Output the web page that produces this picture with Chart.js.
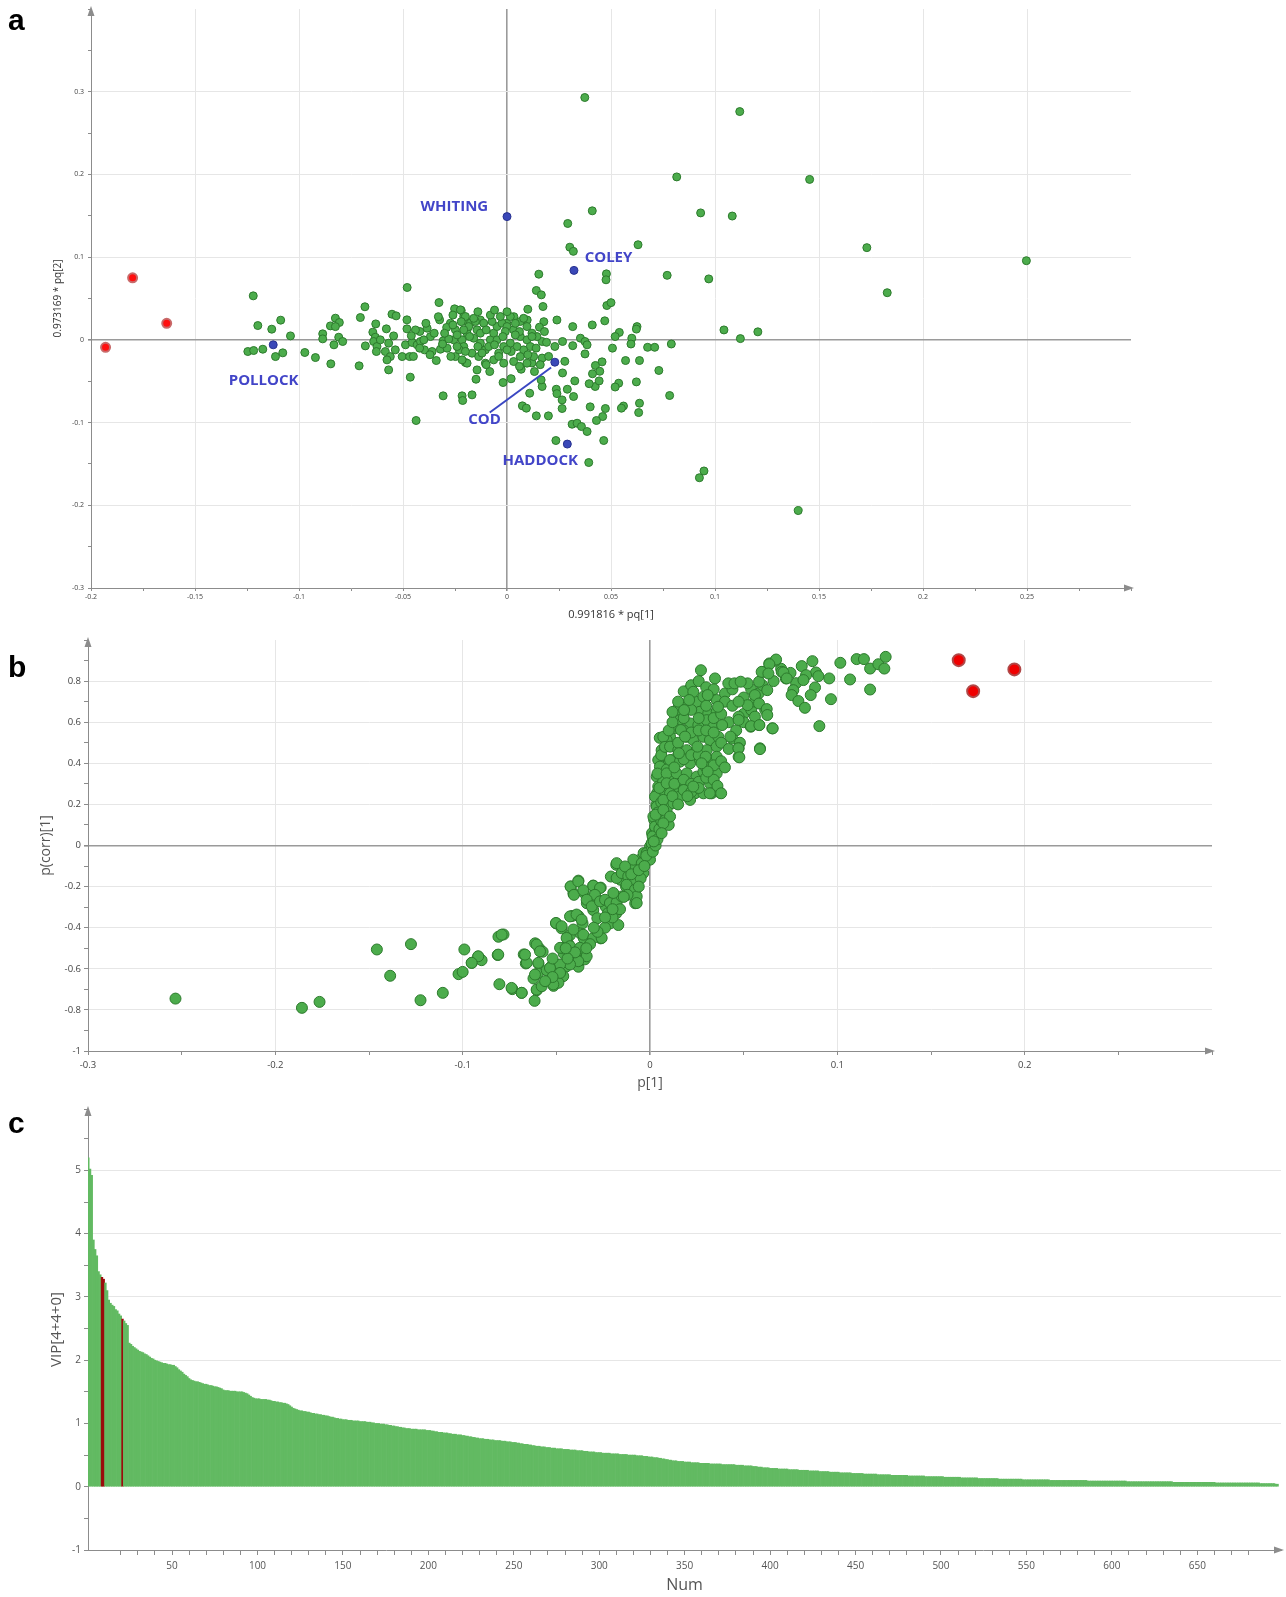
<!DOCTYPE html>
<html>
<head>
<meta charset="utf-8">
<script src="https://cdn.jsdelivr.net/npm/chart.js@4.4.1/dist/chart.umd.min.js"></script>
<style>
  body { margin: 0; background: #fff; width: 1286px; height: 1597px; position: relative; overflow: hidden; }
  .panel { position: absolute; left: 0; width: 1286px; }
  .letter { position: absolute; left: 8px; font: bold 30px "Liberation Sans", Arial, sans-serif; line-height: 30px; color: #000; }
</style>
</head>
<body>
<div class="panel" style="top:0;height:628px"><canvas id="chartA" width="1286" height="628"></canvas></div>
<div class="panel" style="top:628px;height:472px"><canvas id="chartB" width="1286" height="472"></canvas></div>
<div class="panel" style="top:1100px;height:497px"><canvas id="chartC" width="1286" height="497"></canvas></div>
<div class="letter" style="top:5px">a</div>
<div class="letter" style="top:652px">b</div>
<div class="letter" style="top:1108px">c</div>
<script>
// ---- panel a : scores, 0.991816 * pq[1] vs 0.973169 * pq[2]
const aGreen = [
  [0.0374,0.293],[0.1119,0.276],[0.0816,0.197],[0.1455,0.194],[0.041,0.156],[0.0931,0.1535],[0.1083,0.1497],[0.0292,0.1407],
  [0.0302,0.112],[0.0319,0.107],[0.063,0.115],[0.173,0.1115],[0.2497,0.0957],[0.0153,0.0794],[0.0478,0.0798],[0.0476,0.0726],
  [0.077,0.078],[0.097,0.0737],[0.1828,0.057],[0.0141,0.0597],[0.0165,0.0544],[0.0173,0.0403],[0.01,0.037],[0.048,0.0415],
  [0.05,0.045],[0.024,0.024],[0.0177,0.022],[0.0316,0.016],[0.041,0.018],[0.047,0.023],[0.0625,0.016],[0.0622,0.013],
  [0.054,0.009],[0.052,0.004],[0.06,0.002],[0.0596,-0.005],[0.0676,-0.009],[0.071,-0.009],[0.079,-0.005],[0.1043,0.012],
  [0.1122,0.0015],[0.1206,0.0097],[0.0353,0.002],[0.0375,-0.002],[0.0385,-0.006],[0.0316,-0.007],[0.0267,-0.002],[0.023,-0.008],
  [0.0507,-0.01],[0.0375,-0.017],[0.057,-0.025],[0.0637,-0.025],[0.073,-0.037],[0.0457,-0.0266],[0.0425,-0.031],[0.0446,-0.038],
  [0.0411,-0.041],[0.0424,-0.0564],[0.0395,-0.053],[0.0443,-0.0496],[0.0326,-0.0496],[0.0267,-0.04],[0.0278,-0.026],[0.0622,-0.0508],
  [0.0537,-0.0524],[0.052,-0.057],[0.0782,-0.0673],[0.0237,-0.0597],[0.024,-0.065],[0.0265,-0.0726],[0.029,-0.0597],[0.032,-0.0685],
  [0.0265,-0.083],[0.04,-0.081],[0.0473,-0.083],[0.046,-0.0927],[0.043,-0.0975],[0.056,-0.08],[0.055,-0.0826],[0.0637,-0.0766],
  [0.0633,-0.0879],[0.0313,-0.102],[0.0337,-0.1008],[0.0358,-0.1048],[0.0385,-0.1108],[0.0235,-0.1217],[0.0465,-0.1217],[0.0393,-0.1483],
  [0.0141,-0.0919],[0.0199,-0.0919],[0.0074,-0.0798],[0.0093,-0.0826],[0.0109,-0.0645],[0.0169,-0.0564],[0.0164,-0.0484],[0.0132,-0.0383],
  [-0.0019,-0.0516],[0.002,-0.047],[-0.0149,-0.0476],[-0.0168,-0.0665],[-0.0083,-0.0383],[0.0068,-0.0355],[0.012,-0.028],[0.0169,-0.022],
  [0.02,-0.02],[0.0169,-0.002],[0.019,-0.003],[0.0156,0.0153],[0.0097,0.024],[0.0033,0.028],[-0.0001,0.02],[-0.0128,0.024],
  [0.0947,-0.1585],[0.0925,-0.1667],[0.14,-0.2064],
  [-0.122,0.0532],[-0.1198,0.0173],[-0.1131,0.0129],[-0.1088,0.0238],[-0.1041,0.0048],[-0.1246,-0.0141],[-0.1218,-0.0129],[-0.1174,-0.0113],
  [-0.1113,-0.0202],[-0.1078,-0.0157],[-0.0972,-0.0153],[-0.0921,-0.0214],[-0.0847,-0.029],[-0.0886,0.0073],[-0.0886,0.0012],[-0.0849,0.0169],
  [-0.0825,0.0262],[-0.0806,0.021],[-0.0825,0.016],[-0.0809,0.0032],[-0.079,-0.002],[-0.0832,-0.006],[-0.0711,-0.0314],[-0.0705,0.027],
  [-0.0683,0.04],[-0.0631,0.0193],[-0.0645,0.0093],[-0.0633,0.0032],[-0.0641,-0.002],[-0.0625,-0.008],[-0.0628,-0.0141],[-0.0609,0],
  [-0.058,0.0133],[-0.0569,-0.004],[-0.0585,-0.0141],[-0.0561,-0.0202],[-0.0577,-0.0242],[-0.0569,-0.0363],[-0.0545,0.0048],[-0.0537,-0.0121],
  [-0.0681,-0.0073],[-0.0553,0.031],[-0.0533,0.029],[-0.048,0.0633],[-0.0481,0.0242],[-0.0481,0.0133],[-0.0504,-0.0202],[-0.0468,-0.0202],
  [-0.0465,-0.0451],[-0.0488,-0.006],[-0.0456,-0.0032],[-0.0432,-0.006],[-0.0416,-0.002],[-0.0419,0.0101],[-0.0384,0.0141],[-0.0368,0.004],
  [-0.0397,-0.0121],[-0.036,-0.0141],[-0.032,-0.0113],[-0.0307,-0.0012],[-0.0437,-0.0975],[-0.0307,-0.0677],[-0.0216,-0.0677],[-0.0213,-0.0733],
  [-0.0327,0.0451],[-0.0252,0.0375],[-0.022,0.0355],[-0.0324,0.0242],[-0.0272,0.0202],[-0.0248,0.0121],[-0.0208,0.0282],[-0.0192,0.0222],
  [-0.0192,0.0121],[-0.0256,0],[-0.0216,0],[-0.0288,-0.0101],[-0.0248,-0.0202],[-0.02,-0.0274],
  [-0.0224,0.0363],[-0.02,0.0282],[-0.0176,0.0202],[-0.0144,0.0121],[-0.0192,0.0081],[-0.016,0.002],[-0.0128,-0.004],[-0.0208,-0.0081],
  [-0.0168,-0.0161],[-0.0136,-0.0202],[-0.0104,-0.0121],[-0.008,0],[-0.0064,0.0081],[-0.0048,0.0161],[-0.0024,0.0202],[0,0.0161],
  [0.0032,0.0121],[0.0064,0.004],[0.0096,0],[0.0112,-0.0081],[0.008,-0.0121],[0.0048,-0.0081],[0.0016,-0.004],[-0.0016,-0.0081],
  [-0.004,-0.0161],[-0.0064,-0.0242],[-0.0016,-0.0282],[0.0032,-0.0262],[0.0064,-0.0202],[0.0096,-0.0282],[0.0128,-0.0202],[0.0144,0.004],
  [0.012,0.0081],[0.0096,0.0161],[0.0064,0.0222],[0.0016,0.0282],[-0.0008,0.0101],[-0.0048,0],[-0.0088,-0.0081],[-0.0128,0.0081],
  [-0.0152,0.0222],[-0.0184,0.0161],[-0.0208,0.0121],[-0.0112,0.0202],[-0.0072,0.0222],[-0.0032,0.0282],[-0.0104,-0.0282],[-0.0144,-0.0363],
  [-0.0192,-0.0282],[-0.0216,-0.0242],
  [-0.044,0.012],[-0.042,-0.01],[-0.039,0.02],[-0.037,-0.018],[-0.035,0.008],[-0.033,0.028],[-0.031,-0.005],[-0.029,0.015],
  [-0.027,-0.02],[-0.026,0.03],[-0.024,0.006],[-0.023,-0.012],[-0.028,0.001],[-0.034,-0.025],[-0.04,0.0],[-0.045,-0.02],[-0.046,0.005],
  [-0.018,0.004],[-0.014,-0.008],[-0.01,0.012],[-0.006,-0.006],[-0.002,0.004],[0.002,-0.014],[0.006,0.01],[0.01,-0.018],
  [0.004,0.02],[-0.004,-0.02],[-0.012,-0.016],[-0.016,0.026],[-0.008,0.03],[0.008,0.026],[0.012,0.004],[0.014,-0.01],
  [-0.02,-0.014],[-0.024,-0.008],[-0.026,0.018],[-0.03,0.008],[-0.022,0.022],[0.0,-0.012],[0.004,0.006],[-0.01,-0.03],
  [0.0,0.034],[0.018,0.01],[0.016,-0.03],[0.006,-0.032],[-0.006,0.036],[-0.014,0.034]
];
const aRed = [[-0.193,-0.009],[-0.18,0.075],[-0.1636,0.02]];
const aBlue = [[0,0.149],[0.0322,0.084],[-0.1124,-0.006],[0.023,-0.027],[0.029,-0.126]];
const fishNames = ["WHITING", "COLEY", "POLLOCK", "COD", "HADDOCK"];
const fishLabelX = [-0.0253, 0.0488, -0.117, -0.0108, 0.016];
const fishLabelY = [0.161, 0.099, -0.0496, -0.0967, -0.146];
const codLeader = [[-0.0083,-0.0879],[0.0212,-0.0335]];

// ---- panel b : p[1] vs p(corr)[1]
const bGreen = [
  [-0.2533,-0.745],[-0.1858,-0.79],[-0.1764,-0.761],[-0.1458,-0.506],[-0.1276,-0.48],[-0.1387,-0.634],[-0.1225,-0.753],[-0.1106,-0.717],
  [-0.0991,-0.506],[-0.1022,-0.626],[-0.1,-0.615],[-0.0951,-0.571],[-0.0917,-0.541],[-0.0899,-0.558],[-0.0813,-0.533],[-0.0809,-0.444],
  [-0.0782,-0.433],[-0.0804,-0.675],[-0.0735,-0.699],[-0.0685,-0.717],[-0.0674,-0.53],[-0.0663,-0.574],[-0.0613,-0.476],[-0.0591,-0.501],
  [-0.0573,-0.517],[-0.0596,-0.574],[-0.0622,-0.647],[-0.06,-0.623],[-0.0604,-0.704],[-0.0616,-0.756],[-0.0551,-0.607],[-0.0528,-0.59],
  [-0.0515,-0.683],[-0.0501,-0.379],[-0.0472,-0.403],[-0.0483,-0.582],[-0.0461,-0.525],[-0.0461,-0.501],[-0.0438,-0.476],[-0.0449,-0.59],
  [-0.0404,-0.566],[-0.0382,-0.59],[-0.0371,-0.558],[-0.0348,-0.554],[-0.036,-0.509],[-0.0427,-0.436],[-0.0416,-0.343],[-0.0382,-0.343],
  [-0.036,-0.379],[-0.0371,-0.428],[-0.0423,-0.2],[-0.0382,-0.171],[-0.0409,-0.233],[-0.0353,-0.229],[-0.0337,-0.281],[-0.0303,-0.195],
  [-0.0263,-0.205],[-0.0285,-0.257],[-0.0303,-0.314],[-0.0281,-0.354],[-0.0263,-0.452],[-0.0353,-0.452],[-0.0236,-0.298],[-0.0225,-0.33],
  [-0.0213,-0.379],[-0.018,-0.33],[-0.0169,-0.387],[-0.0191,-0.281],[-0.0209,-0.151],[-0.018,-0.094],[-0.0157,-0.167],[-0.0128,-0.2],
  [-0.0101,-0.192],[-0.009,-0.159],[-0.0079,-0.233],[-0.0079,-0.281],[-0.0101,-0.102],[-0.0056,-0.07],[-0.0034,-0.037],[-0.0045,-0.086],
  [0,-0.005],[0.0011,0.06],[0.0022,0.125],[0.0034,0.198],[0.0038,0.255],[0.0052,0.337],[0.0056,0.402],[0.0052,0.524],
  [-0.0424,-0.199],[-0.0383,-0.175],[-0.0406,-0.24],[-0.0356,-0.218],[-0.0303,-0.196],[-0.0267,-0.207],[-0.0294,-0.24],[-0.0338,-0.264],
  [-0.0311,-0.296],[-0.0267,-0.272],[-0.024,-0.264],[-0.0214,-0.28],[-0.0178,-0.277],[-0.0151,-0.248],[-0.0196,-0.231],[-0.0178,-0.158],
  [-0.0151,-0.134],[-0.0116,-0.15],[-0.0089,-0.167],[-0.0125,-0.191],[-0.008,-0.215],[-0.0071,-0.248],[-0.0071,-0.28],[-0.0089,-0.069],
  [-0.0044,-0.086],[0,-0.069],[-0.0036,-0.134],[-0.0018,-0.037],[0.0009,-0.005],[0.0027,0.06],[0.0018,0.028],[-0.0178,-0.086],[-0.0133,-0.102],
  [-0.0502,-0.377],[-0.0472,-0.393],[-0.0427,-0.345],[-0.0392,-0.336],[-0.0365,-0.361],[-0.0409,-0.409],[-0.0356,-0.434],[-0.0303,-0.45],
  [-0.0258,-0.45],[-0.0445,-0.45],[-0.048,-0.498],[-0.0427,-0.49],[-0.0374,-0.498],[-0.0338,-0.539],[-0.0383,-0.563],[-0.0427,-0.579],
  [-0.048,-0.579],[-0.0534,-0.596],[-0.0463,-0.636],[-0.0489,-0.668],[-0.0605,-0.482],[-0.0587,-0.515],[-0.0596,-0.571],[-0.0614,-0.628],
  [-0.0605,-0.701],[-0.0658,-0.571],[-0.0667,-0.531],[-0.0516,-0.676],[-0.0578,-0.685],[-0.0685,-0.717],[-0.0739,-0.693],[-0.081,-0.531],
  [-0.0792,-0.434],[-0.0917,-0.539],[-0.0952,-0.571],
  [-0.005,-0.16],[-0.012,-0.24],[-0.016,-0.31],[-0.02,-0.35],[-0.024,-0.4],[-0.028,-0.42],[-0.032,-0.48],[-0.034,-0.5],
  [-0.04,-0.52],[-0.044,-0.55],[-0.048,-0.62],[-0.052,-0.64],[-0.056,-0.66],[-0.03,-0.4],[-0.02,-0.31],[-0.014,-0.25],
  [-0.01,-0.14],[-0.006,-0.2],[-0.024,-0.35],[-0.045,-0.5],[-0.052,-0.55],[-0.002,-0.05],[-0.006,-0.12],[-0.003,-0.1],
  [0.0272,0.853],[0.0347,0.813],[0.0205,0.756],[0.0222,0.74],[0.0178,0.683],[0.0142,0.659],[0.016,0.61],[0.0133,0.57],
  [0.0107,0.529],[0.0089,0.513],[0.0071,0.529],[0.0062,0.464],[0.0044,0.416],[0.0053,0.384],[0.0036,0.335],[0.0044,0.287],
  [0.0027,0.238],[0.0036,0.189],[0.0018,0.141],[0.0027,0.092],[0.0014,0.044],[0.0009,0.011],
  [0.0015,-0.03],[0.003,0.0],[0.004,0.03],[0.005,0.08],[0.006,0.12],[0.004,0.16],[0.006,0.21],[0.008,0.26],
  [0.007,0.31],[0.009,0.37],[0.006,0.44],[0.008,0.48],[0.01,0.56],[0.012,0.6],[0.009,0.18],[0.01,0.1],
  [0.012,0.33],[0.013,0.42],[0.002,0.02],[0.003,0.15],[0.005,0.28],[0.004,0.35],
  [0.0249,0.699],[0.0285,0.724],[0.032,0.732],[0.0356,0.708],[0.0267,0.651],[0.0311,0.643],[0.0356,0.651],[0.0214,0.594],
  [0.0258,0.586],[0.0303,0.61],[0.0338,0.578],[0.0196,0.529],[0.0231,0.513],[0.0285,0.529],[0.032,0.513],[0.0365,0.529],
  [0.0107,0.481],[0.0151,0.464],[0.0196,0.464],[0.0249,0.464],[0.0303,0.464],[0.0356,0.481],[0.0107,0.416],[0.016,0.408],
  [0.0214,0.4],[0.0267,0.416],[0.032,0.416],[0.0356,0.432],[0.0089,0.351],[0.0142,0.351],[0.0196,0.351],[0.0249,0.335],
  [0.0285,0.359],[0.032,0.303],[0.0356,0.351],[0.0089,0.303],[0.0142,0.287],[0.0196,0.287],[0.024,0.254],[0.0107,0.254],
  [0.016,0.238],[0.0214,0.222],[0.0285,0.254],[0.0329,0.254],[0.0374,0.257],[0.0071,0.222],[0.0125,0.206],[0.0071,0.173],
  [0.0107,0.141],[0.0071,0.108],[0.0062,0.06],
  [0.012,0.65],[0.015,0.7],[0.018,0.75],[0.022,0.78],[0.026,0.8],[0.03,0.77],[0.034,0.76],[0.04,0.74],
  [0.044,0.76],[0.04,0.7],[0.044,0.68],[0.05,0.72],[0.054,0.76],[0.058,0.74],[0.018,0.62],[0.022,0.66],
  [0.026,0.62],[0.03,0.68],[0.034,0.62],[0.038,0.64],[0.042,0.6],[0.046,0.56],[0.05,0.64],[0.05,0.6],
  [0.054,0.66],[0.015,0.5],[0.018,0.56],[0.022,0.55],[0.026,0.56],[0.03,0.56],[0.034,0.55],[0.038,0.5],
  [0.042,0.47],[0.013,0.38],[0.018,0.42],[0.022,0.44],[0.026,0.44],[0.03,0.38],[0.034,0.39],[0.038,0.41],
  [0.013,0.3],[0.018,0.32],[0.022,0.3],[0.026,0.31],[0.03,0.33],[0.034,0.32],[0.018,0.27],[0.022,0.26],
  [0.026,0.28],[0.012,0.24],[0.015,0.2],[0.02,0.24],[0.036,0.29],[0.04,0.38],[0.044,0.52],[0.048,0.5],
  [0.056,0.7],[0.06,0.78],[0.066,0.8],[0.07,0.86],[0.075,0.84],[0.078,0.79],
  [0.0418,0.789],[0.0451,0.789],[0.0521,0.789],[0.0484,0.797],[0.0582,0.797],[0.0604,0.845],[0.0637,0.886],[0.067,0.899],
  [0.0703,0.845],[0.0725,0.813],[0.0626,0.756],[0.056,0.732],[0.0521,0.683],[0.0473,0.7],[0.0473,0.627],[0.0429,0.53],
  [0.0385,0.586],[0.0363,0.675],[0.0308,0.732],[0.0231,0.748],[0.0209,0.708],[0.0182,0.659],[0.0165,0.562],[0.0187,0.53],
  [0.0154,0.449],[0.0253,0.481],[0.0297,0.432],[0.0308,0.36],[0.0275,0.4],[0.0231,0.287],[0.0319,0.254],[0.038,0.254],
  [0.0473,0.473],[0.0473,0.432],[0.0587,0.473],[0.0653,0.57],[0.0582,0.586],[0.0538,0.578],[0.0615,0.659],[0.056,0.627],[0.0473,0.611],
  [0.0673,0.905],[0.0637,0.882],[0.0596,0.845],[0.0632,0.837],[0.0712,0.842],[0.073,0.813],[0.081,0.873],[0.0867,0.897],
  [0.0886,0.842],[0.0833,0.829],[0.0819,0.805],[0.0899,0.824],[0.0957,0.813],[0.0765,0.756],[0.0756,0.732],[0.0792,0.703],
  [0.0827,0.67],[0.0881,0.769],[0.0858,0.732],[0.0966,0.712],[0.1016,0.889],[0.1103,0.907],[0.1142,0.907],[0.1175,0.861],
  [0.1219,0.882],[0.1258,0.918],[0.1251,0.861],[0.1068,0.808],[0.1175,0.759],[0.0904,0.581],[0.0655,0.57],[0.0587,0.469],
  [0.0472,0.473],[0.0477,0.429],[0.0582,0.691],[0.0623,0.664],[0.0626,0.635],[0.0539,0.581],[0.0584,0.586]
];
const bRed = [[0.1648,0.902],[0.1725,0.751],[0.1945,0.857]];

// ---- panel c : VIP[4+4+0], sorted, one bar per variable
const vipValues = [
  5.20,5.02,4.92,3.90,3.75,3.65,3.40,3.35,3.31,3.28,3.22,3.10,2.95,2.90,2.87,2.85,2.80,2.78,2.73,2.70,2.65,2.62,2.58,2.55,2.27,
  2.25,2.22,2.20,2.18,2.16,2.14,2.13,2.12,2.10,2.09,2.07,2.05,2.03,2.02,2.00,1.99,1.98,1.97,1.96,1.95,1.95,1.94,1.93,1.93,1.92,
  1.92,1.90,1.88,1.85,1.83,1.81,1.78,1.76,1.74,1.71,1.69,1.68,1.67,1.66,1.66,1.65,1.64,1.63,1.62,1.62,1.61,1.60,1.60,1.59,1.58,
  1.58,1.57,1.56,1.55,1.53,1.52,1.52,1.52,1.51,1.51,1.51,1.51,1.50,1.50,1.50,1.50,1.49,1.48,1.47,1.45,1.43,1.41,1.40,1.39,1.39,
  1.39,1.38,1.38,1.38,1.38,1.37,1.37,1.36,1.35,1.35,1.34,1.34,1.33,1.33,1.32,1.32,1.31,1.30,1.28,1.26,1.24,1.23,1.22,1.21,1.20,
  1.20,1.19,1.19,1.18,1.18,1.17,1.16,1.16,1.15,1.15,1.14,1.14,1.13,1.13,1.12,1.12,1.11,1.10,1.10,1.09,1.08,1.08,1.07,1.07,1.06,
  1.06,1.06,1.05,1.05,1.05,1.04,1.04,1.04,1.04,1.03,1.03,1.03,1.03,1.02,1.02,1.02,1.01,1.01,1.00,1.00,1.00,0.99,0.99,0.99,0.98,
  0.98,0.97,0.97,0.96,0.96,0.95,0.95,0.94,0.94,0.93,0.93,0.92,0.92,0.92,0.91,0.91,0.91,0.91,0.90,0.90,0.90,0.90,0.90,0.89,0.89,
  0.89,0.88,0.88,0.87,0.87,0.86,0.86,0.86,0.85,0.85,0.85,0.84,0.84,0.83,0.83,0.83,0.82,0.82,0.82,0.81,0.81,0.80,0.80,0.79,0.79,
  0.78,0.78,0.77,0.77,0.76,0.76,0.76,0.75,0.75,0.75,0.74,0.74,0.74,0.73,0.73,0.73,0.73,0.72,0.72,0.72,0.71,0.71,0.71,0.70,0.70,
  0.70,0.69,0.69,0.68,0.68,0.67,0.67,0.67,0.66,0.66,0.65,0.65,0.64,0.64,0.64,0.63,0.63,0.63,0.62,0.62,0.62,0.61,0.61,0.61,0.60,
  0.60,0.60,0.60,0.59,0.59,0.59,0.59,0.58,0.58,0.58,0.58,0.57,0.57,0.57,0.57,0.56,0.56,0.56,0.55,0.55,0.55,0.55,0.54,0.54,0.54,
  0.54,0.53,0.53,0.53,0.53,0.53,0.52,0.52,0.52,0.52,0.52,0.51,0.51,0.51,0.51,0.51,0.50,0.50,0.50,0.50,0.50,0.49,0.49,0.49,0.49,
  0.48,0.48,0.48,0.47,0.47,0.47,0.46,0.46,0.46,0.45,0.45,0.44,0.44,0.43,0.43,0.42,0.42,0.41,0.41,0.41,0.40,0.40,0.40,0.40,0.39,
  0.39,0.39,0.39,0.38,0.38,0.38,0.38,0.38,0.37,0.37,0.37,0.37,0.37,0.37,0.36,0.36,0.36,0.36,0.36,0.36,0.36,0.35,0.35,0.35,0.35,
  0.35,0.35,0.35,0.35,0.34,0.34,0.34,0.34,0.34,0.33,0.33,0.33,0.33,0.33,0.32,0.32,0.32,0.31,0.31,0.31,0.30,0.30,0.30,0.30,0.29,
  0.29,0.29,0.29,0.29,0.28,0.28,0.28,0.28,0.28,0.28,0.27,0.27,0.27,0.27,0.27,0.27,0.26,0.26,0.26,0.26,0.26,0.26,0.25,0.25,0.25,
  0.25,0.25,0.25,0.24,0.24,0.24,0.24,0.24,0.24,0.23,0.23,0.23,0.23,0.23,0.23,0.22,0.22,0.22,0.22,0.22,0.22,0.22,0.21,0.21,0.21,
  0.21,0.21,0.21,0.21,0.20,0.20,0.20,0.20,0.20,0.20,0.20,0.20,0.19,0.19,0.19,0.19,0.19,0.19,0.19,0.19,0.18,0.18,0.18,0.18,0.18,
  0.18,0.18,0.18,0.18,0.18,0.17,0.17,0.17,0.17,0.17,0.17,0.17,0.17,0.17,0.17,0.16,0.16,0.16,0.16,0.16,0.16,0.16,0.16,0.16,0.16,
  0.16,0.15,0.15,0.15,0.15,0.15,0.15,0.15,0.15,0.15,0.15,0.14,0.14,0.14,0.14,0.14,0.14,0.14,0.14,0.14,0.14,0.13,0.13,0.13,0.13,
  0.13,0.13,0.13,0.13,0.13,0.13,0.13,0.13,0.12,0.12,0.12,0.12,0.12,0.12,0.12,0.12,0.12,0.12,0.12,0.12,0.12,0.12,0.11,0.11,0.11,
  0.11,0.11,0.11,0.11,0.11,0.11,0.11,0.11,0.11,0.11,0.11,0.11,0.11,0.10,0.10,0.10,0.10,0.10,0.10,0.10,0.10,0.10,0.10,0.10,0.10,
  0.10,0.10,0.10,0.10,0.10,0.10,0.10,0.10,0.10,0.10,0.09,0.09,0.09,0.09,0.09,0.09,0.09,0.09,0.09,0.09,0.09,0.09,0.09,0.09,0.09,
  0.09,0.09,0.09,0.09,0.09,0.09,0.09,0.09,0.08,0.08,0.08,0.08,0.08,0.08,0.08,0.08,0.08,0.08,0.08,0.08,0.08,0.08,0.08,0.08,0.08,
  0.08,0.08,0.08,0.08,0.08,0.08,0.08,0.08,0.08,0.08,0.07,0.07,0.07,0.07,0.07,0.07,0.07,0.07,0.07,0.07,0.07,0.07,0.07,0.07,0.07,
  0.07,0.07,0.07,0.07,0.07,0.07,0.07,0.07,0.07,0.07,0.06,0.06,0.06,0.06,0.06,0.06,0.06,0.06,0.06,0.06,0.06,0.06,0.06,0.06,0.06,
  0.06,0.06,0.06,0.06,0.06,0.06,0.06,0.06,0.06,0.06,0.06,0.05,0.05,0.05,0.05,0.05,0.05,0.05,0.05,0.05,0.04,0.04
];
const vipRedBars = [9, 10, 21]; // 1-based Num of the highlighted variables

const GREEN = "rgb(76,172,76)";
const GREEN_EDGE = "rgb(44,122,44)";
const GRID = "#e6e6e6";
const ZERO = "#9a9a9a";
const AXIS = "#8c8c8c";

Chart.defaults.font.family = '"Open Sans", "Noto Sans", sans-serif';
Chart.defaults.color = "#444";

function isMultiple(v, step) {
  const r = v / step;
  return Math.abs(r - Math.round(r)) < 1e-6;
}
function fmt(v) {
  return String(Math.round(v * 1000) / 1000);
}
function toXY(arr) {
  return arr.map(p => ({ x: p[0], y: p[1] }));
}

// arrow heads at the end of both axes
const axisArrows = {
  id: "axisArrows",
  afterDraw(chart) {
    const { ctx, chartArea: a } = chart;
    ctx.save();
    ctx.fillStyle = AXIS;
    ctx.beginPath();
    ctx.moveTo(a.left, a.top - 3);
    ctx.lineTo(a.left - 3.5, a.top + 7);
    ctx.lineTo(a.left + 3.5, a.top + 7);
    ctx.fill();
    ctx.beginPath();
    ctx.moveTo(a.right + 3, a.bottom);
    ctx.lineTo(a.right - 7, a.bottom - 3.5);
    ctx.lineTo(a.right - 7, a.bottom + 3.5);
    ctx.fill();
    ctx.restore();
  }
};

const fishLabels = {
  id: "fishLabels",
  afterDatasetsDraw(chart) {
    const { ctx, scales: { x, y } } = chart;
    ctx.save();
    ctx.font = 'bold 15px "Open Sans", sans-serif';
    ctx.fillStyle = "#4245c8";
    ctx.textAlign = "center";
    ctx.textBaseline = "middle";
    fishNames.forEach((name, i) => {
      ctx.fillText(name, x.getPixelForValue(fishLabelX[i]), y.getPixelForValue(fishLabelY[i]));
    });
    ctx.restore();
  }
};

// grid colour: light lines on the major steps, darker at zero, none on the far edges
function gridColor(major, lo, hi) {
  return ctx => {
    const v = ctx.tick.value;
    if (Math.abs(v) < 1e-9) return ZERO;
    if (v <= lo + 1e-9 || v >= hi - 1e-9) return "rgba(0,0,0,0)";
    return isMultiple(v, major) ? GRID : "rgba(0,0,0,0)";
  };
}
function gridWidth(ctx) {
  return Math.abs(ctx.tick.value) < 1e-9 ? 1.6 : 1;
}

const baseOptions = {
  responsive: false,
  animation: false,
  events: [],
  plugins: { legend: { display: false }, tooltip: { enabled: false } }
};

// ---------- chart a
new Chart(document.getElementById("chartA"), {
  type: "scatter",
  data: {
    datasets: [
      { data: toXY(codLeader), showLine: true, borderColor: "#3a47c2", borderWidth: 2, pointRadius: 0, order: 0 },
      { data: toXY(aBlue), pointRadius: 4, backgroundColor: "#3a48b8", borderColor: "#283290", borderWidth: 1, order: 1 },
      { data: toXY(aRed), pointRadius: 4.5, backgroundColor: "#ff1010", borderColor: "#c86a6a", borderWidth: 2, order: 2 },
      { data: toXY(aGreen), pointRadius: 4, backgroundColor: GREEN, borderColor: GREEN_EDGE, borderWidth: 1, order: 3 }
    ]
  },
  options: {
    ...baseOptions,
    layout: { padding: { left: 0, right: 155, top: 9, bottom: 0 } },
    scales: {
      x: {
        type: "linear", min: -0.2, max: 0.3,
        afterFit(scale) { scale.height = 40; },
        border: { color: AXIS, width: 1 },
        grid: { color: gridColor(0.05, -0.2, 0.3), lineWidth: gridWidth, tickColor: AXIS, tickLength: 3 },
        ticks: {
          stepSize: 0.025, autoSkip: false, maxRotation: 0, padding: 2,
          font: { size: 7 }, color: "#444",
          callback: v => (isMultiple(v, 0.05) && v < 0.26 ? fmt(v) : "")
        },
        title: { display: true, text: "0.991816 * pq[1]", font: { size: 11 }, color: "#333", padding: { top: 0, bottom: 7 } }
      },
      y: {
        type: "linear", min: -0.3, max: 0.4,
        afterFit(scale) { scale.width = 91; },
        border: { color: AXIS, width: 1 },
        grid: { color: gridColor(0.1, -0.3, 0.4), lineWidth: gridWidth, tickColor: AXIS, tickLength: 3 },
        ticks: {
          stepSize: 0.05, autoSkip: false, padding: 4,
          font: { size: 7 }, color: "#444",
          callback: v => (isMultiple(v, 0.1) && v < 0.35 ? fmt(v) : "")
        },
        title: { display: true, text: "0.973169 * pq[2]", font: { size: 10 }, color: "#333", padding: { top: 52, bottom: 0 } }
      }
    }
  },
  plugins: [axisArrows, fishLabels]
});

// ---------- chart b
new Chart(document.getElementById("chartB"), {
  type: "scatter",
  data: {
    datasets: [
      { data: toXY(bRed), pointRadius: 6, backgroundColor: "#f00000", borderColor: "#b04848", borderWidth: 2, order: 0 },
      { data: toXY(bGreen), pointRadius: 5.5, backgroundColor: GREEN, borderColor: GREEN_EDGE, borderWidth: 1, order: 1 }
    ]
  },
  options: {
    ...baseOptions,
    layout: { padding: { left: 0, right: 74, top: 12, bottom: 0 } },
    scales: {
      x: {
        type: "linear", min: -0.3, max: 0.3,
        afterFit(scale) { scale.height = 49; },
        border: { color: AXIS, width: 1 },
        grid: { color: gridColor(0.1, -0.3, 0.3), lineWidth: gridWidth, tickColor: AXIS, tickLength: 4 },
        ticks: {
          stepSize: 0.05, autoSkip: false, maxRotation: 0, padding: 5,
          font: { size: 9.5 }, color: "#444",
          callback: v => (isMultiple(v, 0.1) && v < 0.25 ? fmt(v) : "")
        },
        title: { display: true, text: "p[1]", font: { size: 14 }, color: "#555", padding: { top: 0, bottom: 8.6 } }
      },
      y: {
        type: "linear", min: -1, max: 1,
        afterFit(scale) { scale.width = 88; },
        border: { color: AXIS, width: 1 },
        grid: { color: gridColor(0.2, -1, 1), lineWidth: gridWidth, tickColor: AXIS, tickLength: 4 },
        ticks: {
          stepSize: 0.1, autoSkip: false, padding: 3,
          font: { size: 9.5 }, color: "#444",
          callback: v => (isMultiple(v, 0.2) && v < 0.9 ? fmt(v) : "")
        },
        title: { display: true, text: "p(corr)[1]", font: { size: 14 }, color: "#555", padding: { top: 38, bottom: 0 } }
      }
    }
  },
  plugins: [axisArrows]
});

// ---------- chart c
const vipPoints = vipValues.map((v, i) => ({ x: i + 1, y: v }));
const vipColors = vipValues.map((v, i) => (vipRedBars.includes(i + 1) ? "#9a0c0c" : "rgb(98,186,98)"));

new Chart(document.getElementById("chartC"), {
  type: "bar",
  data: {
    datasets: [{
      data: vipPoints,
      backgroundColor: vipColors,
      borderWidth: 0,
      barPercentage: 1,
      categoryPercentage: 1
    }]
  },
  options: {
    ...baseOptions,
    layout: { padding: { left: 0, right: 5, top: 7, bottom: 0 } },
    scales: {
      x: {
        type: "linear", min: 0.8, max: 699, offset: false,
        afterFit(scale) { scale.height = 47; },
        border: { color: AXIS, width: 1 },
        grid: {
          offset: false, drawOnChartArea: false, tickLength: 5,
          tickColor: ctx => (isMultiple(ctx.tick.value, 10) ? AXIS : "rgba(0,0,0,0)")
        },
        ticks: {
          stepSize: 10, autoSkip: false, maxRotation: 0, padding: 5,
          font: { size: 10 }, color: "#555",
          callback: v => (isMultiple(v, 50) && v > 0 && v < 680 ? fmt(v) : "")
        },
        title: { display: true, text: "Num", font: { size: 16 }, color: "#555", padding: { top: 0, bottom: 2.4 } }
      },
      y: {
        type: "linear", min: -1, max: 5.97,
        afterFit(scale) { scale.width = 88; },
        border: { color: AXIS, width: 1 },
        grid: {
          tickLength: 4, tickColor: AXIS,
          color: ctx => {
            const v = ctx.tick.value;
            return isMultiple(v, 1) && v > 0.5 && v < 5.5 ? GRID : "rgba(0,0,0,0)";
          }
        },
        ticks: {
          stepSize: 0.5, autoSkip: false, padding: 3,
          font: { size: 10 }, color: "#555",
          callback: v => (isMultiple(v, 1) && v < 5.5 ? fmt(v) : "")
        },
        title: { display: true, text: "VIP[4+4+0]", font: { size: 15 }, color: "#555", padding: { top: 48, bottom: 0 } }
      }
    }
  },
  plugins: [axisArrows]
});
</script>
</body>
</html>
